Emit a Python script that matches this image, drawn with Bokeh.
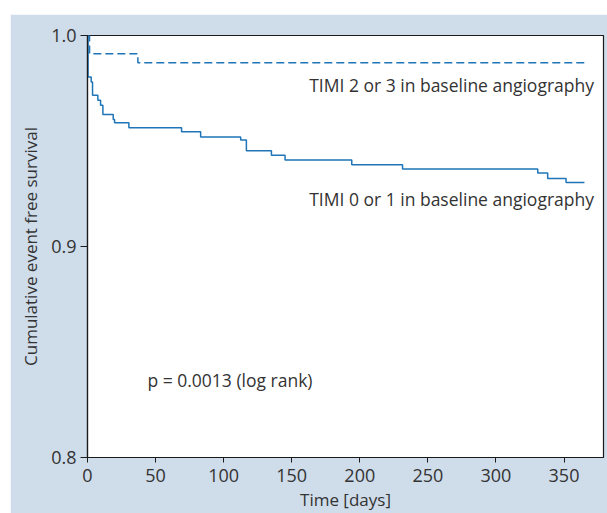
from bokeh.plotting import figure
from bokeh.models import FixedTicker, Label, Range1d, PrintfTickFormatter
from bokeh.embed import file_html
from bokeh.resources import INLINE

# Data
timi01_days = [0, 0.4, 2.7, 3.7, 7.6, 9.6, 11.3, 18.9, 19.9, 30.4, 69.1, 83.1,
               112.5, 116.7, 135.1, 145.1, 194.1, 231.4, 330.7, 338.0, 351.5, 365]
timi01_surv = [1.0, 0.9803, 0.9780, 0.9717, 0.9693, 0.9670, 0.9626, 0.9602, 0.9587,
               0.9563, 0.9544, 0.9519, 0.9505, 0.9454, 0.9433, 0.9410, 0.9388,
               0.9367, 0.9348, 0.9322, 0.9303, 0.9303]
timi23_days = [0, 1.5, 37, 365]
timi23_surv = [1.0, 0.9914, 0.9871, 0.9871]

x_ticks = [0, 50, 100, 150, 200, 250, 300, 350]
y_ticks = [0.8, 0.9, 1.0]

FONT = "Open Sans"
TXT = "#333333"
BLUE = "#1f75b8"

p = figure(width=597, height=499, output_backend="svg", toolbar_location=None,
           x_range=Range1d(0, 379), y_range=Range1d(0.8, 1.0),
           min_border_left=77, min_border_top=21, min_border_right=4,
           min_border_bottom=54)
p.margin = (14, 0, 0, 10)
p.border_fill_color = "#cfdcea"
p.background_fill_color = "white"
p.outline_line_color = "#1a1a1a"
p.outline_line_width = 1.2
p.grid.visible = False

p.step(timi01_days, timi01_surv, mode="after", line_color=BLUE, line_width=1.5)
p.step(timi23_days, timi23_surv, mode="after", line_color=BLUE, line_width=1.5,
       line_dash="8 4")

for ax in (p.xaxis[0], p.yaxis[0]):
    ax.axis_line_color = "#1a1a1a"
    ax.axis_line_width = 1.2
    ax.major_tick_line_color = "#1a1a1a"
    ax.minor_tick_line_color = None
    ax.major_tick_in = 0
    ax.major_label_text_font = FONT
    ax.major_label_text_color = TXT
    ax.major_label_text_font_size = "18px"
    ax.axis_label_text_font = FONT
    ax.axis_label_text_color = TXT
    ax.axis_label_text_font_size = "17px"
    ax.axis_label_text_font_style = "normal"

p.xaxis.ticker = FixedTicker(ticks=x_ticks)
p.xaxis.major_tick_out = 5
p.xaxis.major_label_standoff = 6
p.xaxis.axis_label = "Time [days]"
p.xaxis.axis_label_standoff = 3

p.yaxis.ticker = FixedTicker(ticks=y_ticks)
p.yaxis.formatter = PrintfTickFormatter(format="%.1f")
p.yaxis.major_tick_out = 7
p.yaxis.major_label_standoff = 4
p.yaxis.axis_label = "Cumulative event free survival"
p.yaxis.axis_label_standoff = 6

for x, y, t, align in [(372, 0.9765, "TIMI 2 or 3 in baseline angiography", "right"),
                       (372, 0.9223, "TIMI 0 or 1 in baseline angiography", "right"),
                       (44, 0.8365, "p = 0.0013 (log rank)", "left")]:
    p.add_layout(Label(x=x, y=y, text=t, text_align=align, text_baseline="alphabetic",
                       text_font=FONT, text_font_size="17.5px", text_color=TXT))

open("out.html", "w").write(file_html(p, INLINE))
